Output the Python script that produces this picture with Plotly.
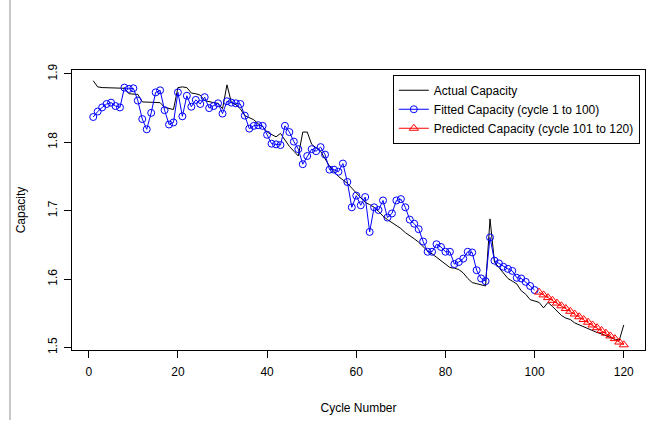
import plotly.graph_objects as go

cycles_actual = list(range(1, 121))
actual_capacity = [
    1.890, 1.881, 1.880, 1.880, 1.879, 1.880, 1.879, 1.879, 1.871, 1.870,
    1.870, 1.859, 1.859, 1.859, 1.859, 1.858, 1.851, 1.849, 1.848, 1.880,
    1.881, 1.880, 1.872, 1.871, 1.869, 1.861, 1.859, 1.858, 1.857, 1.849,
    1.884, 1.858, 1.855, 1.849, 1.839, 1.836, 1.833, 1.827, 1.823, 1.815,
    1.812, 1.808, 1.813, 1.804, 1.794, 1.787, 1.780, 1.815, 1.815, 1.797,
    1.792, 1.787, 1.776, 1.765, 1.757, 1.750, 1.745, 1.740, 1.733, 1.726,
    1.718, 1.712, 1.709, 1.705, 1.699, 1.692, 1.687, 1.683, 1.679, 1.674,
    1.668, 1.664, 1.659, 1.654, 1.648, 1.641, 1.637, 1.632, 1.627, 1.622,
    1.617, 1.616, 1.614, 1.609, 1.601, 1.595, 1.593, 1.592, 1.590, 1.688,
    1.625, 1.617, 1.609, 1.601, 1.597, 1.593, 1.583, 1.578, 1.570, 1.568,
    1.566, 1.558, 1.566, 1.560, 1.553, 1.547, 1.543, 1.541, 1.536, 1.533,
    1.530, 1.527, 1.525, 1.522, 1.520, 1.517, 1.514, 1.512, 1.511, 1.533,
]

cycles_fitted = list(range(1, 101))
fitted_capacity = [
    1.837, 1.845, 1.851, 1.856, 1.858, 1.853, 1.851, 1.880, 1.878, 1.879,
    1.861, 1.834, 1.819, 1.843, 1.873, 1.876, 1.847, 1.826, 1.829, 1.873,
    1.838, 1.868, 1.852, 1.862, 1.856, 1.866, 1.850, 1.853, 1.857, 1.842,
    1.860, 1.858, 1.857, 1.856, 1.839, 1.820, 1.824, 1.825, 1.824, 1.811,
    1.798, 1.797, 1.796, 1.824, 1.815, 1.801, 1.790, 1.768, 1.780, 1.790,
    1.787, 1.793, 1.782, 1.760, 1.760, 1.757, 1.769, 1.742, 1.705, 1.722,
    1.708, 1.720, 1.669, 1.705, 1.701, 1.715, 1.690, 1.696, 1.715, 1.717,
    1.705, 1.687, 1.681, 1.673, 1.655, 1.640, 1.640, 1.651, 1.647, 1.640,
    1.640, 1.622, 1.625, 1.630, 1.640, 1.639, 1.613, 1.601, 1.597, 1.661,
    1.627, 1.623, 1.618, 1.615, 1.612, 1.602, 1.601, 1.596, 1.590, 1.584,
]

cycles_pred = list(range(101, 121))
predicted_capacity = [
    1.581, 1.577, 1.573, 1.569, 1.565, 1.561, 1.557, 1.553, 1.549, 1.545,
    1.541, 1.537, 1.533, 1.529, 1.525, 1.521, 1.517, 1.513, 1.508, 1.504,
]

x_ticks = [0, 20, 40, 60, 80, 100, 120]
y_ticks = [1.5, 1.6, 1.7, 1.8, 1.9]

FONT = "Liberation Sans, Arial, Helvetica, sans-serif"

fig = go.Figure()
fig.add_trace(go.Scatter(
    x=cycles_actual, y=actual_capacity, mode="lines",
    name="Actual Capacity",
    line=dict(color="black", width=1),
))
fig.add_trace(go.Scatter(
    x=cycles_fitted, y=fitted_capacity, mode="lines+markers",
    name="Fitted Capacity (cycle 1 to 100)",
    line=dict(color="#0000FF", width=1),
    marker=dict(symbol="circle-open", size=7, color="#0000FF",
                line=dict(width=1, color="#0000FF")),
))
fig.add_trace(go.Scatter(
    x=cycles_pred, y=predicted_capacity, mode="lines+markers",
    name="Predicted Capacity (cycle 101 to 120)",
    line=dict(color="#FF0000", width=1),
    marker=dict(symbol="triangle-up-open", size=8, color="#FF0000",
                line=dict(width=1, color="#FF0000")),
))

fig.add_shape(type="line", xref="paper", yref="paper",
              x0=-62 / 573, x1=-62 / 573, y0=-0.25, y1=1.25,
              line=dict(color="#c8c8c8", width=2), layer="below")

fig.update_layout(
    width=658, height=425,
    margin=dict(l=72, r=13, t=70, b=67),
    paper_bgcolor="white", plot_bgcolor="white",
    font=dict(family=FONT, size=12, color="black"),
    showlegend=True,
    legend=dict(
        x=0.991, y=0.983, xanchor="right", yanchor="top",
        bordercolor="black", borderwidth=1, bgcolor="white",
        font=dict(family=FONT, size=12, color="black"),
        tracegroupgap=0,
    ),
    xaxis=dict(
        range=[-3.76, 124.76], tickvals=x_ticks, ticktext=[str(v) for v in x_ticks],
        showgrid=False, zeroline=False, showline=True, mirror=True,
        linecolor="black", linewidth=1, ticks="outside", ticklen=7,
        tickcolor="black", tickfont=dict(size=12), ticklabelstandoff=4,
        title=dict(text="Cycle Number", font=dict(size=12), standoff=25),
    ),
    yaxis=dict(
        range=[1.4964, 1.9057], tickvals=y_ticks, ticktext=[str(v) for v in y_ticks],
        showgrid=False, zeroline=False, showline=True, mirror=True,
        linecolor="black", linewidth=1, ticks="outside", ticklen=7,
        tickcolor="black", tickangle=-90, tickfont=dict(size=12),
        ticklabelstandoff=2,
        title=dict(text="Capacity", font=dict(size=12), standoff=18),
    ),
)

fig.write_html("out.html")
